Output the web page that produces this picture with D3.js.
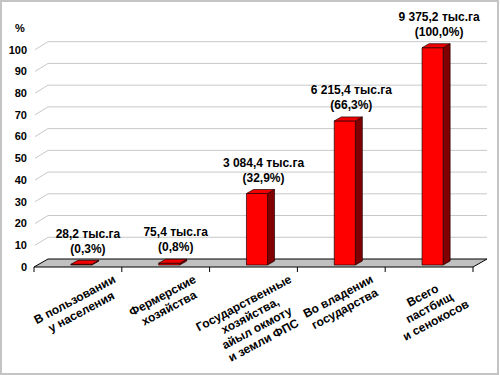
<!DOCTYPE html>
<html>
<head>
<meta charset="utf-8">
<script src="https://cdn.jsdelivr.net/npm/d3@7"></script>
<style>
  body { margin: 0; background: #fff; }
  text { font-family: "Liberation Sans", Arial, sans-serif; font-weight: bold; fill: #000; }
</style>
</head>
<body>
<div id="container"></div>
<script>
// data
let categories = [
  ["В пользовании", "у населения"],
  ["Фермерские", "хозяйства"],
  ["Государственные", "хозяйства,", "айыл окмоту", "и земли ФПС"],
  ["Во владении", "государства"],
  ["Всего", "пастбищ", "и сенокосов"]
];
let areaThousandHa = [28.2, 75.4, 3084.4, 6215.4, 9375.2];
let sharePercent = [0.3, 0.8, 32.9, 66.3, 100.0];
let yTicks = [0, 10, 20, 30, 40, 50, 60, 70, 80, 90, 100];

let w = 500;
let h = 375;
let depthX = 14;   // 3d depth of the floor
let depthY = -8;

let viz = d3.select("#container")
  .append("svg")
    .attr("width", w)
    .attr("height", h)
;

// outer frame
viz.append("rect")
    .attr("x", 1).attr("y", 1)
    .attr("width", w - 3).attr("height", h - 2)
    .attr("fill", "#fff")
    .attr("stroke", "#c4c4c4")
    .attr("stroke-width", 2)
;

let xScale = d3.scaleBand()
    .domain(d3.range(categories.length))
    .range([34, 473])
    .padding(0)
;
let yScale = d3.scaleLinear().domain([0, 100]).range([267, 49.7]);

// project a point: x on the front plane, value, depth 0..1
function P(px, v, d){
  return [px + depthX * d, yScale(v) + depthY * d];
}
function poly(pts){
  return "M" + pts.map(function(p){ return p[0] + "," + p[1]; }).join("L") + "Z";
}

let x0 = xScale.range()[0];
let x1 = xScale.range()[1];

// gridlines on back wall + side wall
let grid = viz.append("g").attr("class", "grid");
yTicks.filter(function(t){ return t > 0; }).forEach(function(t){
  let a = P(x0, t, 0), b = P(x0, t, 1), c = P(x1, t, 1);
  grid.append("path")
      .attr("d", "M" + (a[0] + 1) + "," + a[1] + "L" + b[0] + "," + b[1] + "L" + c[0] + "," + c[1])
      .attr("fill", "none")
      .attr("stroke", "#c8c8c8")
      .attr("stroke-width", 1)
  ;
});

// floor
viz.append("path")
    .attr("d", poly([P(x0, 0, 0), P(x1, 0, 0), P(x1, 0, 1), P(x0, 0, 1)]))
    .attr("fill", "#c0c0c0")
    .attr("stroke", "#000")
    .attr("stroke-width", 1)
;

// category ticks
let tickXs = xScale.domain().map(function(i){ return xScale(i); }).concat([x1]);
viz.append("g").selectAll("line").data(tickXs).enter().append("line")
    .attr("x1", function(d){ return d; })
    .attr("x2", function(d){ return d; })
    .attr("y1", yScale(0))
    .attr("y2", yScale(0) + 5)
    .attr("stroke", "#000")
;

// y axis labels
viz.append("g").selectAll("text").data(yTicks).enter().append("text")
    .attr("x", 27)
    .attr("y", function(d){ return yScale(d); })
    .attr("dy", "0.35em")
    .attr("text-anchor", "end")
    .style("font-size", "11px")
    .text(function(d){ return d; })
;
viz.append("text")
    .attr("x", 20).attr("y", 28)
    .attr("dy", "0.35em")
    .attr("text-anchor", "middle")
    .style("font-size", "11px")
    .text("%")
;

// bars
let barW = xScale.bandwidth() * 0.24;
let d0 = 0.25, d1 = 0.75;
let bars = viz.append("g").selectAll("g").data(sharePercent).enter().append("g");

bars.each(function(v, i){
  let g = d3.select(this);
  let bx0 = xScale(i) + (xScale.bandwidth() - barW) / 2;
  let bx1 = bx0 + barW;
  g.append("path")
      .attr("d", poly([P(bx1, 0, d0), P(bx1, 0, d1), P(bx1, v, d1), P(bx1, v, d0)]))
      .attr("fill", "#800000").attr("stroke", "#200000").attr("stroke-width", 0.7);
  g.append("path")
      .attr("d", poly([P(bx0, 0, d0), P(bx1, 0, d0), P(bx1, v, d0), P(bx0, v, d0)]))
      .attr("fill", "#ff0000").attr("stroke", "#200000").attr("stroke-width", 0.7);
  g.append("path")
      .attr("d", poly([P(bx0, v, d0), P(bx1, v, d0), P(bx1, v, d1), P(bx0, v, d1)]))
      .attr("fill", "#f00000").attr("stroke", "#200000").attr("stroke-width", 0.7);
});

// value labels
let ru = d3.formatLocale({decimal: ",", thousands: " ", grouping: [3], currency: ["", ""]});
let fmtArea = ru.format(",.1f");
let fmtPct = ru.format(".1f");

let labels = viz.append("g").selectAll("g").data(sharePercent).enter().append("g")
    .attr("transform", function(v, i){
      let cx = xScale(i) + xScale.bandwidth() / 2 + 10;
      let cy = yScale(v) + depthY * d1 - 12;
      return "translate(" + cx + "," + cy + ")";
    })
;
labels.append("text")
    .attr("y", -15).attr("dy", "0.35em")
    .attr("text-anchor", "middle")
    .style("font-size", "12px")
    .text(function(v, i){ return fmtArea(areaThousandHa[i]) + " тыс.га"; })
;
labels.append("text")
    .attr("y", 0).attr("dy", "0.35em")
    .attr("text-anchor", "middle")
    .style("font-size", "12px")
    .text(function(v){ return "(" + fmtPct(v) + "%)"; })
;

// rotated category labels
let angle = 28;
let rad = angle * Math.PI / 180;
let lineH = 14;
let catG = viz.append("g").selectAll("g").data(categories).enter().append("g");
catG.each(function(lines, i){
  let g = d3.select(this);
  let t = g.append("text")
      .attr("text-anchor", "middle")
      .style("font-size", "12px");
  lines.forEach(function(s, k){
    t.append("tspan")
        .attr("x", 0)
        .attr("y", (k - (lines.length - 1) / 2) * lineH)
        .attr("dy", "0.35em")
        .text(s);
  });
  let wMax = d3.max(t.selectAll("tspan").nodes(), function(n){ return n.getComputedTextLength(); });
  let cx = xScale(i) + xScale.bandwidth() / 2;
  let cy = yScale(0) + 5 + (wMax / 2) * Math.sin(rad) + (lines.length * lineH / 2) * Math.cos(rad);
  g.attr("transform", "translate(" + cx + "," + cy + ") rotate(" + (-angle) + ")");
});
</script>
</body>
</html>
